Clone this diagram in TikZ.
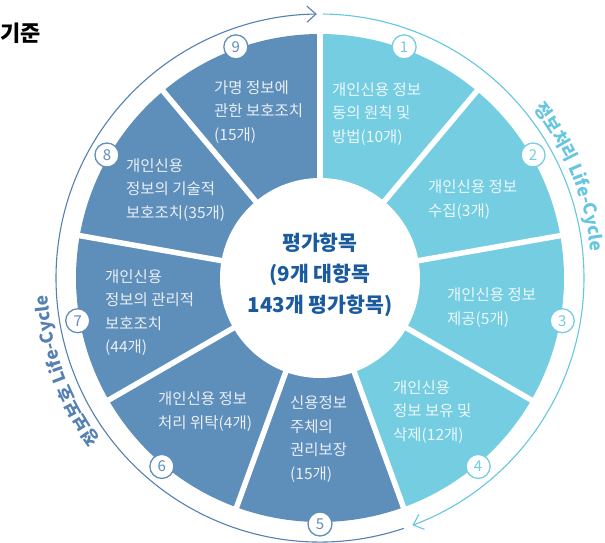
\documentclass[tikz,border=0pt]{standalone}
\usepackage{fontspec}
\setmainfont{Noto Sans CJK KR}
\usetikzlibrary{arrows.meta,decorations.text}
\definecolor{lightseg}{RGB}{116,205,225}
\definecolor{darkseg}{RGB}{94,142,186}
\definecolor{centertxt}{RGB}{26,90,158}
\definecolor{lightarc}{RGB}{100,198,224}
\definecolor{darkarc}{RGB}{84,128,178}
\tikzset{
  segtext/.style={anchor=west, inner sep=0pt, align=left, font=\fontsize{15.5}{23.5}\selectfont},
  lighttext/.style={segtext, text=white!86!lightseg},
  darktext/.style={segtext, text=white!86!darkseg},
  numcirc/.style={circle, fill=white, draw=#1, text=#1, line width=1.3pt, minimum size=24pt, inner sep=0pt, font=\fontsize{15}{15}\selectfont},
  cyclearc/.style={draw=#1, line width=1.1pt, -{Straight Barb[length=9pt,width=16pt,line width=1.1pt]}},
  gapline/.style={draw=white, line width=5.5pt}
}
\begin{document}
\begin{tikzpicture}[x=1pt,y=1pt]
\useasboundingbox (-320,-264) rectangle (285,278);
% segments
\foreach \i in {1,...,9}{
  \pgfmathsetmacro{\sa}{90-40*(\i-1)}
  \pgfmathsetmacro{\ea}{90-40*\i}
  \ifnum\i<5 \def\sc{lightseg}\else\def\sc{darkseg}\fi
  \fill[\sc] (0,0) -- (\sa:244) arc[start angle=\sa, end angle=\ea, radius=244] -- cycle;
}
\foreach \a in {90,50,10,-30,-70,-110,-150,170,130}
  \draw[gapline] (0,0) -- (\a:250);
\fill[white] (0,0) circle[radius=100];
% outer cycle arcs
\draw[cyclearc=lightarc] (89.3:264) arc[start angle=89.3, end angle=-69.5, radius=264];
\draw[cyclearc=darkarc] (-71.5:264) arc[start angle=-71.5, end angle=-269.3, radius=264];
% curved labels
\path[decorate, decoration={text along path, text align=center, text color=lightarc,
  text={|\bfseries\fontsize{17.5}{18}\selectfont|정보처리 Life-Cycle}}]
  (43:272) arc[start angle=43, end angle=1, radius=272];
\path[decorate, decoration={text along path, text align=center, text color=darkarc,
  text={|\bfseries\fontsize{17.5}{18}\selectfont|정보보호 Life-Cycle}}]
  (220:273) arc[start angle=220, end angle=180, radius=273];
% number circles
\foreach \i in {1,...,9}{
  \pgfmathsetmacro{\ma}{70-40*(\i-1)}
  \ifnum\i<5 \def\sc{lightseg}\else\def\sc{darkseg}\fi
  \node[numcirc=\sc] (n\i) at (\ma:246) {\i};
}
% segment texts
\node[lighttext] (s1) at (12,164) {개인신용 정보\\동의 원칙 및\\방법(10개)};
\node[lighttext] (s2) at (108,78.5) {개인신용 정보\\수집(3개)};
\node[lighttext] (s3) at (127,-29.5) {개인신용 정보\\제공(5개)};
\node[lighttext] (s4) at (73,-134) {개인신용\\정보 보유 및\\삭제(12개)};
\node[darktext] (s5) at (-30,-161) {신용정보\\주체의\\권리보장\\(15개)};
\node[darktext] (s6) at (-162,-133.5) {개인신용 정보\\처리 위탁(4개)};
\node[darktext] (s7) at (-215,-34.5) {개인신용\\정보의 관리적\\보호조치\\(44개)};
\node[darktext] (s8) at (-194,88) {개인신용\\정보의 기술적\\보호조치(35개)};
\node[darktext] (s9) at (-106,166) {가명 정보에\\관한 보호조치\\(15개)};
% center
\node[align=center, text=centertxt, font=\bfseries\fontsize{20.5}{31}\selectfont] (center) at (0,3)
  {평가항목\\(9개 대항목\\143개 평가항목)};
% title
\node[anchor=west, inner sep=0pt, font=\bfseries\fontsize{22}{22}\selectfont] (title) at (-320,245) {기준};
\end{tikzpicture}
\end{document}
